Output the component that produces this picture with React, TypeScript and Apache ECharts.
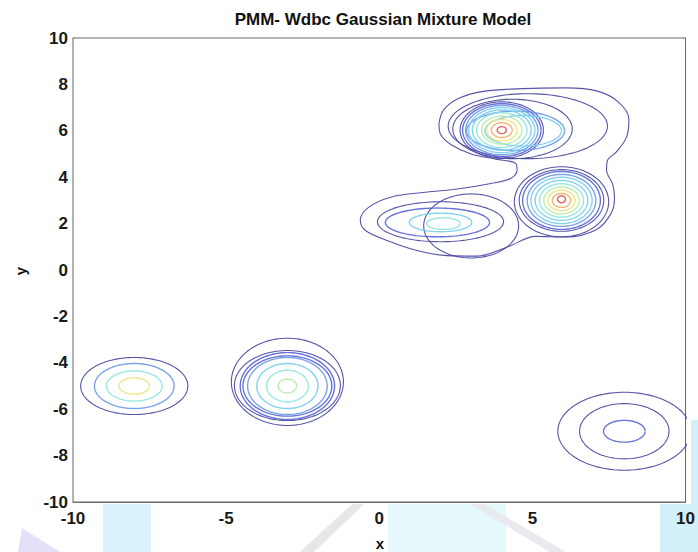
import React, { useEffect, useRef } from "react";
import * as echarts from "echarts";

// ---- Data (data units) ----
const chartTitle = "PMM- Wdbc Gaussian Mixture Model";
const xTicks = [-10, -5, 0, 5, 10];
const yTicks = [-10, -8, -6, -4, -2, 0, 2, 4, 6, 8, 10];

// Contour ellipses (component contour lines): centre, half-widths, contour level (0 = lowest)
const ellCx = [
  -8, -8, -8, -8,
  -3, -3, -3, -3, -3, -3, -3, -3,
  8, 8, 8,
  4, 4, 4, 4, 4, 4, 4, 4, 4, 4,
  4.85, 4.35, 4.45, 4.7,
  5.95, 5.95, 5.95, 5.95, 5.95, 5.95, 5.95, 5.95, 5.95, 5.95, 5.95,
  2.0, 1.9, 2.0, 2.1, 3.0,
];
const ellCy = [
  -5, -5, -5, -5,
  -4.82, -4.98, -5, -5, -5, -5, -5, -5,
  -6.95, -6.95, -6.95,
  6.03, 6.03, 6.03, 6.03, 6.03, 6.03, 6.03, 6.03, 6.03, 6.03,
  6.2, 6.08, 6.0, 6.0,
  2.94, 3.0, 3.0, 3.0, 3.0, 3.0, 3.0, 3.0, 3.0, 3.0, 3.05,
  2.08, 2.05, 2.05, 2.0, 1.9,
];
const ellRx = [
  1.75, 1.3, 0.91, 0.5,
  1.83, 1.73, 1.54, 1.45, 1.3, 1.0, 0.68, 0.3,
  2.17, 1.46, 0.68,
  1.36, 1.28, 1.18, 1.08, 0.96, 0.82, 0.66, 0.5, 0.34, 0.15,
  2.6, 1.95, 1.6, 1.25,
  1.54, 1.38, 1.27, 1.12, 1.0, 0.86, 0.72, 0.58, 0.44, 0.3, 0.13,
  2.06, 1.7, 1.02, 0.55, 1.55,
];
const ellRy = [
  1.23, 0.97, 0.65, 0.35,
  1.88, 1.51, 1.44, 1.3, 1.23, 0.97, 0.68, 0.3,
  1.68, 1.19, 0.47,
  1.22, 1.14, 1.06, 0.97, 0.87, 0.75, 0.6, 0.46, 0.32, 0.15,
  1.4, 1.28, 0.85, 0.66,
  1.51, 1.33, 1.25, 1.12, 1.0, 0.86, 0.72, 0.58, 0.44, 0.3, 0.15,
  0.86, 0.62, 0.4, 0.25, 1.38,
];
const ellLevel = [
  0, 2, 4, 6,
  0, 0, 1, 1, 2, 3, 4, 5,
  0, 0, 1,
  0, 1, 2, 3, 3, 4, 5, 6, 7, 8,
  0, 0, 2, 3,
  0, 0, 1, 2, 3, 3, 4, 5, 6, 7, 8,
  0, 1, 3, 4, 0,
];

// Outer contour of the whole mixture enclosing the three upper-right components
const mixX = [
  1.95, 2.1, 2.6, 3.4, 4.7, 6.1, 7.1, 7.8, 8.15, 8.08, 7.75, 7.45, 7.42, 7.62, 7.68,
  7.57, 7.1, 6.1, 5.1, 4.2, 3.2, 2.2, 1.2, 0.3, -0.45, -0.62, -0.35, 0.4, 1.5, 2.6,
  3.6, 4.3, 4.5, 4.45, 3.8, 3.0, 2.35, 2.0, 1.95,
];
const mixY = [
  6.32, 6.9, 7.4, 7.7, 7.82, 7.85, 7.72, 7.25, 6.5, 5.75, 5.1, 4.72, 4.3, 3.7, 3.1,
  2.44, 1.75, 1.42, 1.45, 1.0, 0.6, 0.62, 0.85, 1.25, 1.7, 2.15, 2.7, 3.15, 3.35, 3.5,
  3.72, 3.95, 4.3, 4.6, 4.78, 5.0, 5.4, 5.85, 6.32,
];

// ---- Styling ----
const JET = ["#45429f", "#5864d4", "#6c9ae8", "#78cdf0", "#8ee6dc", "#b5eea2", "#ebe27c", "#f2ac62", "#d6564f"];
const FONT = "'Liberation Sans', Arial, Helvetica, sans-serif";

function ellipsePoints(cx: number, cy: number, rx: number, ry: number) {
  const n = 120;
  const pts: number[][] = [];
  for (let i = 0; i <= n; i++) {
    const t = (2 * Math.PI * i) / n;
    pts.push([cx + rx * Math.cos(t), cy + ry * Math.sin(t)]);
  }
  return pts;
}

export default function App() {
  const ref = useRef<HTMLDivElement>(null);
  useEffect(() => {
    if (!ref.current) return;
    const chart = echarts.init(ref.current, undefined, { renderer: "svg" });

    const series: any[] = ellCx.map((cx, i) => ({
      type: "line",
      data: ellipsePoints(cx, ellCy[i], ellRx[i], ellRy[i]),
      showSymbol: false,
      symbol: "none",
      silent: true,
      clip: true,
      z: 2 + ellLevel[i],
      lineStyle: { color: JET[ellLevel[i]], width: ellLevel[i] === 0 ? 1.1 : 1.4, opacity: 0.9 },
    }));
    series.push({
      type: "line",
      data: mixX.map((x, i) => [x, mixY[i]]),
      showSymbol: false,
      symbol: "none",
      smooth: 0.35,
      silent: true,
      clip: true,
      z: 2,
      lineStyle: { color: JET[0], width: 1.1, opacity: 0.9 },
    });

    const labelStyle = { color: "#1a1a1a", fontWeight: "bold" as const, fontSize: 17, fontFamily: FONT };
    const axisLine = { show: true, onZero: false, lineStyle: { color: "#666", width: 1 } };
    const tick = { show: true, inside: true, length: 6, lineStyle: { color: "#888" } };

    chart.setOption({
      animation: false,
      backgroundColor: "#fff",
      grid: { left: 73, right: 8, top: 38, bottom: 50, show: true, borderColor: "#666", borderWidth: 1, backgroundColor: "#fff", z: 1 },
      xAxis: [
        {
          type: "value", min: xTicks[0], max: xTicks[xTicks.length - 1], interval: 5, position: "bottom",
          axisLine, axisTick: tick, splitLine: { show: false },
          axisLabel: { ...labelStyle, margin: 8, formatter: (v: number) => String(v) },
        },
        {
          type: "value", min: -10, max: 10, interval: 5, position: "top",
          axisLine, axisTick: tick, splitLine: { show: false }, axisLabel: { show: false },
        },
      ],
      yAxis: [
        {
          type: "value", min: yTicks[0], max: yTicks[yTicks.length - 1], interval: 2, position: "left",
          axisLine, axisTick: tick, splitLine: { show: false },
          axisLabel: { ...labelStyle, margin: 5 },
        },
        {
          type: "value", min: -10, max: 10, interval: 2, position: "right",
          axisLine, axisTick: tick, splitLine: { show: false }, axisLabel: { show: false },
        },
      ],
      graphic: [
        // faint watermark shapes outside the axes
        { type: "rect", z: -10, shape: { x: 103, y: 504, width: 48, height: 48 }, style: { fill: "#d2f0fb", opacity: 0.8 } },
        { type: "polygon", z: -10, shape: { points: [[18, 552], [22, 528], [60, 552]] }, style: { fill: "#dcd9f5", opacity: 0.8 } },
        { type: "polygon", z: -10, shape: { points: [[300, 552], [352, 504], [364, 504], [314, 552]] }, style: { fill: "#e4e4e8", opacity: 0.9 } },
        { type: "rect", z: -10, shape: { x: 388, y: 504, width: 118, height: 48 }, style: { fill: "#e2f7fc", opacity: 0.9 } },
        { type: "polygon", z: -10, shape: { points: [[470, 504], [484, 504], [566, 552], [550, 552]] }, style: { fill: "#e8e8ec", opacity: 0.9 } },
        { type: "rect", z: -10, shape: { x: 660, y: 504, width: 38, height: 48 }, style: { fill: "#c6ecf9", opacity: 0.8 } },
        { type: "rect", z: -10, shape: { x: 691, y: 420, width: 7, height: 84 }, style: { fill: "#c6ecf9", opacity: 0.8 } },
        {
          type: "text", x: 383, y: 19, z: 20,
          style: { text: chartTitle, fill: "#111", font: `bold 17px ${FONT}`, textAlign: "center", textVerticalAlign: "middle" },
        },
        {
          type: "text", x: 380, y: 543, z: 20,
          style: { text: "x", fill: "#111", font: `bold 15px ${FONT}`, textAlign: "center", textVerticalAlign: "middle" },
        },
        {
          type: "text", x: 20, y: 271, rotation: Math.PI / 2, z: 20,
          style: { text: "y", fill: "#111", font: `bold 15px ${FONT}`, textAlign: "center", textVerticalAlign: "middle" },
        },
      ],
      series,
    });
    return () => chart.dispose();
  }, []);
  return <div ref={ref} style={{ width: 698, height: 552, position: "absolute", left: 0, top: 0 }} />;
}
